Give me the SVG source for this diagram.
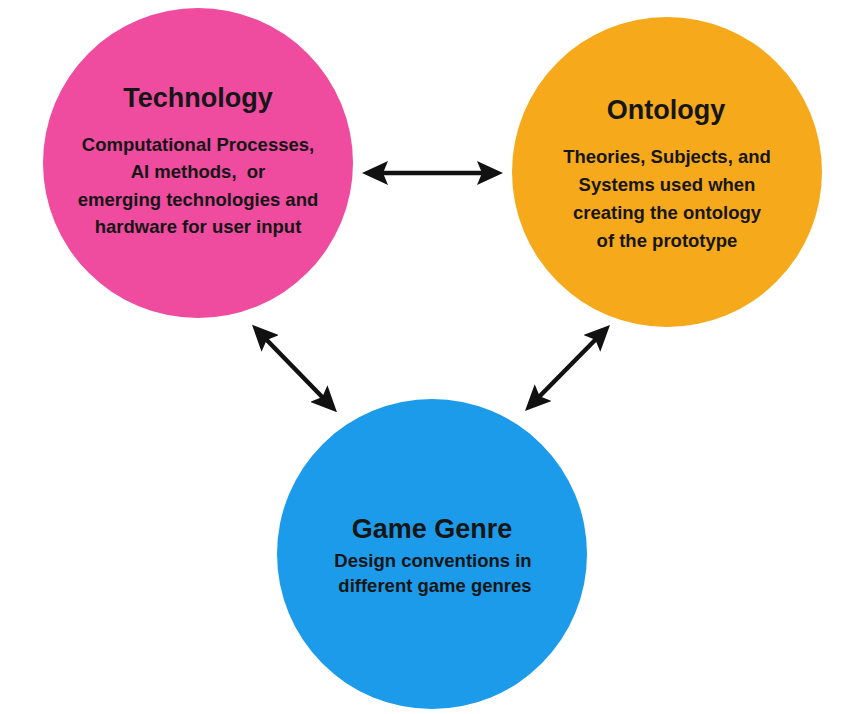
<svg xmlns="http://www.w3.org/2000/svg" width="851" height="714" viewBox="0 0 851 714">
  <style>
    .title { font-family: "Liberation Sans", Arial, sans-serif; font-weight: bold; font-size: 27px; fill: #161616; text-anchor: middle; }
    .body { font-family: "Liberation Sans", Arial, sans-serif; font-weight: bold; font-size: 18.5px; fill: #161616; text-anchor: middle; }
    .link { stroke: #111; stroke-width: 4.5; fill: none; marker-start: url(#head); marker-end: url(#head); }
  </style>
  <defs>
    <marker id="head" viewBox="0 0 26 24" refX="16" refY="12" markerWidth="26" markerHeight="24" markerUnits="userSpaceOnUse" orient="auto-start-reverse">
      <path d="M0,0 L26,12 L0,24 L5,12 Z" fill="#111"/>
    </marker>
  </defs>
  <rect width="851" height="714" fill="#ffffff"/>

  <g id="connectors">
    <line class="link" x1="372" y1="173" x2="493" y2="173"/>
    <line class="link" x1="259" y1="332" x2="330" y2="405"/>
    <line class="link" x1="603" y1="332" x2="532" y2="404"/>
  </g>

  <g id="technology">
    <circle cx="198" cy="163" r="155" fill="#EF4B9F"/>
    <text class="title" x="198" y="107">Technology</text>
    <text class="body" x="198" y="151">Computational Processes,</text>
    <text class="body" x="198" y="178" xml:space="preserve">AI methods,  or</text>
    <text class="body" x="198" y="206">emerging technologies and</text>
    <text class="body" x="198" y="233">hardware for user input</text>
  </g>

  <g id="ontology">
    <circle cx="667" cy="172" r="155" fill="#F6A91B"/>
    <text class="title" x="666" y="119">Ontology</text>
    <text class="body" x="667" y="163">Theories, Subjects, and</text>
    <text class="body" x="667" y="191">Systems used when</text>
    <text class="body" x="667" y="219">creating the ontology</text>
    <text class="body" x="667" y="247">of the prototype</text>
  </g>

  <g id="game-genre">
    <circle cx="432" cy="554" r="155" fill="#1C9BEA"/>
    <text class="title" x="432" y="538">Game Genre</text>
    <text class="body" x="433" y="567">Design conventions in</text>
    <text class="body" x="435" y="592">different game genres</text>
  </g>
</svg>
